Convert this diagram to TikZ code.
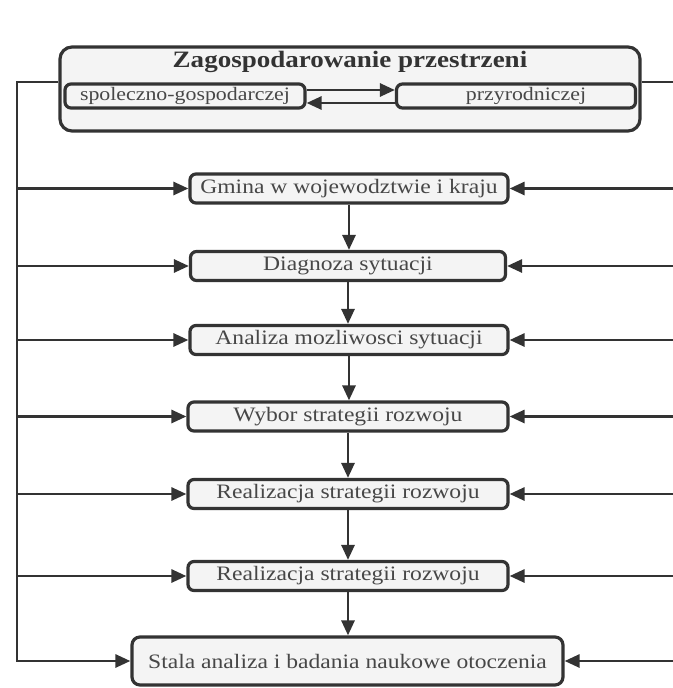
\documentclass[tikz,border=0pt]{standalone}
\usepackage{fontspec}
\setmainfont{Liberation Serif}
\newfontfamily\widefont[FakeStretch=1.15]{Liberation Serif}
\usetikzlibrary{arrows.meta}
\definecolor{ink}{HTML}{333333}
\tikzset{
  stepbox/.style={draw=ink, line width=3.2pt, rounded corners=6pt, fill=gray!9,
    minimum height=29pt, minimum width=318pt, inner sep=0pt, text=ink!90,
    font=\widefont\fontsize{20.5}{22}\selectfont},
  subbox/.style={stepbox, minimum height=24pt, minimum width=240pt,
    font=\widefont\fontsize{19}{21}\selectfont},
  conn/.style={line width=2.8pt, draw=ink, -{Triangle[length=15pt,width=13pt]}},
  wire/.style={line width=2.8pt, draw=ink}
}
\begin{document}
\begin{tikzpicture}[x=1pt,y=-1pt]
\useasboundingbox (0,0) rectangle (672,688);
% top box
\node[draw=ink, line width=3.2pt, rounded corners=12pt, fill=gray!9,
  minimum width=580pt, minimum height=84pt, inner sep=0pt] (tb) at (350,89) {};
\node[text=ink, font=\widefont\bfseries\fontsize{23.5}{25}\selectfont] (title) at (350,62) {Zagospodarowanie przestrzeni};
\node[subbox] (lb) at (185,96) {spoleczno-gospodarczej};
\node[subbox, minimum width=239pt] (rb) at (516,96) {\hspace*{20pt}przyrodniczej};
\draw[conn] ([yshift=6pt]lb.east) -- ([yshift=6pt]rb.west);
\draw[conn] ([yshift=-7pt]rb.west) -- ([yshift=-7pt]lb.east);
% steps
\node[stepbox] (b1) at (349,188.5) {Gmina w wojewodztwie i kraju};
\node[stepbox, minimum width=315pt] (b2) at (348,266) {Diagnoza sytuacji};
\node[stepbox] (b3) at (349,340) {Analiza mozliwosci sytuacji};
\node[stepbox, minimum width=320pt] (b4) at (348,416.5) {Wybor strategii rozwoju};
\node[stepbox, minimum width=320pt] (b5) at (348,494) {Realizacja strategii rozwoju};
\node[stepbox, minimum width=320pt] (b6) at (348,576) {Realizacja strategii rozwoju};
\node[stepbox, minimum width=431pt, minimum height=48pt, rounded corners=8pt] (b7) at (347.5,661) {Stala analiza i badania naukowe otoczenia};
% vertical flow
\draw[conn] (b1.south) -- (b1.south |- b2.north);
\draw[conn] (b2.south) -- (b2.south |- b3.north);
\draw[conn] (b3.south) -- (b3.south |- b4.north);
\draw[conn] (b4.south) -- (b4.south |- b5.north);
\draw[conn] (b5.south) -- (b5.south |- b6.north);
\draw[conn] (b6.south) -- (b6.south |- b7.north);
% side rails
\coordinate (L0) at (17,82);
\coordinate (R0) at (675,82);
\draw[conn] (tb.west |- L0) -- (L0) |- (b7.west);
\draw[conn] (tb.east |- R0) -- (R0) |- (b7.east);
\foreach \b in {b1,b2,b3,b4,b5,b6}{
  \draw[conn] (L0 |- \b.west) -- (\b.west);
  \draw[conn] (R0 |- \b.east) -- (\b.east);
}
\end{tikzpicture}
\end{document}
